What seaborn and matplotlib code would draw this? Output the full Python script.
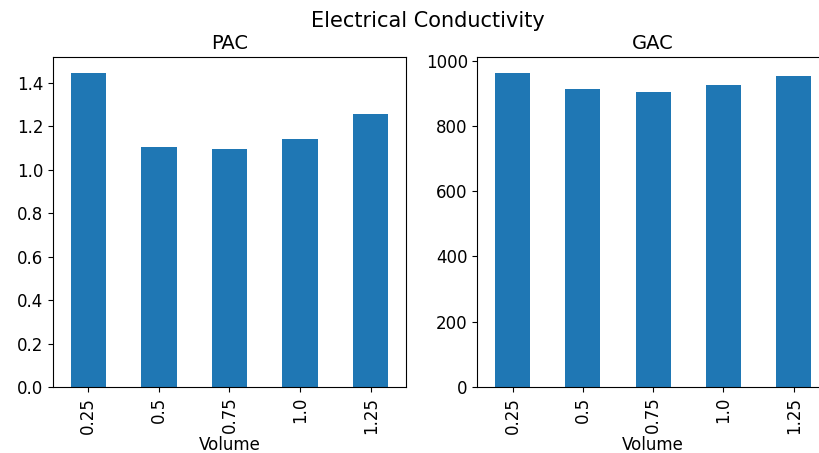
import matplotlib
matplotlib.use("Agg")
import matplotlib.pyplot as plt
import pandas as pd
import seaborn as sns

volumes = ["0.25", "0.5", "0.75", "1.0", "1.25"]
pac_values = [1.447, 1.104, 1.098, 1.141, 1.258]
gac_values = [963, 912, 903, 926, 954]

df = pd.DataFrame({"Volume": volumes, "PAC": pac_values, "GAC": gac_values})

fig = plt.figure(figsize=(8.19, 4.53), dpi=100)
ax_pac = fig.add_axes([0.0647, 0.1457, 0.4310, 0.7285])
ax_gac = fig.add_axes([0.5830, 0.1457, 0.4290, 0.7285])

for ax, col in ((ax_pac, "PAC"), (ax_gac, "GAC")):
    sns.barplot(data=df, x="Volume", y=col, order=volumes, ax=ax,
                color="#1f77b4", saturation=1, width=0.5)
    ax.set_title(col, fontsize=14)
    ax.set_ylabel("")
    ax.set_xlabel("Volume", fontsize=12, labelpad=2)
    ax.set_xlim(-0.5, 4.5)
    ax.tick_params(axis="x", labelrotation=90, labelsize=12)
    ax.tick_params(axis="y", labelsize=12)
    ax.set_ylim(0, max(df[col]) * 1.05)

ax_pac.set_yticks([0.0, 0.2, 0.4, 0.6, 0.8, 1.0, 1.2, 1.4])
ax_gac.set_yticks([0, 200, 400, 600, 800, 1000])

fig.suptitle("Electrical Conductivity", x=0.523, y=0.975, va="top", fontsize=15)
fig.savefig("out.png", dpi=100)
